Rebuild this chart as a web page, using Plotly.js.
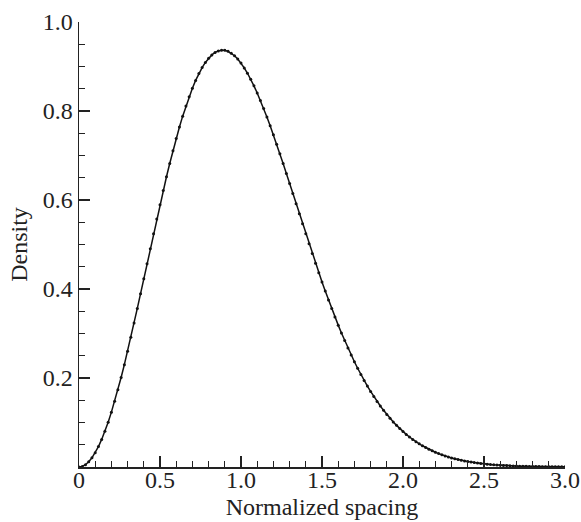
<!DOCTYPE html>
<html>
<head>
<meta charset="utf-8">
<script src="https://cdn.plot.ly/plotly-3.0.1.min.js"></script>
<style>html,body{margin:0;padding:0;background:#fff;}#chart{width:581px;height:522px;}</style>
</head>
<body>
<div id="chart"></div>
<script>
const spacing = [0.00,0.02,0.04,0.06,0.08,0.10,0.12,0.14,0.16,0.18,0.20,0.22,0.24,0.26,0.28,0.30,0.32,0.34,0.36,0.38,0.40,0.42,0.44,0.46,0.48,0.50,0.52,0.54,0.56,0.58,0.60,0.62,0.64,0.66,0.68,0.70,0.72,0.74,0.76,0.78,0.80,0.82,0.84,0.86,0.88,0.90,0.92,0.94,0.96,0.98,1.00,1.02,1.04,1.06,1.08,1.10,1.12,1.14,1.16,1.18,1.20,1.22,1.24,1.26,1.28,1.30,1.32,1.34,1.36,1.38,1.40,1.42,1.44,1.46,1.48,1.50,1.52,1.54,1.56,1.58,1.60,1.62,1.64,1.66,1.68,1.70,1.72,1.74,1.76,1.78,1.80,1.82,1.84,1.86,1.88,1.90,1.92,1.94,1.96,1.98,2.00,2.02,2.04,2.06,2.08,2.10,2.12,2.14,2.16,2.18,2.20,2.22,2.24,2.26,2.28,2.30,2.32,2.34,2.36,2.38,2.40,2.42,2.44,2.46,2.48,2.50,2.52,2.54,2.56,2.58,2.60,2.62,2.64,2.66,2.68,2.70,2.72,2.74,2.76,2.78,2.80,2.82,2.84,2.86,2.88,2.90,2.92,2.94,2.96,2.98,3.00];
const density = [0,0.0013,0.0052,0.0116,0.0206,0.0320,0.0458,0.0620,0.0803,0.1008,0.1233,0.1475,0.1735,0.2011,0.2300,0.2602,0.2914,0.3235,0.3563,0.3896,0.4232,0.4569,0.4906,0.5240,0.5571,0.5896,0.6213,0.6522,0.6821,0.7107,0.7381,0.7640,0.7884,0.8111,0.8321,0.8513,0.8687,0.8841,0.8976,0.9091,0.9186,0.9261,0.9316,0.9351,0.9367,0.9363,0.9341,0.9300,0.9242,0.9167,0.9076,0.8969,0.8848,0.8713,0.8565,0.8405,0.8235,0.8054,0.7865,0.7668,0.7464,0.7253,0.7038,0.6819,0.6596,0.6371,0.6145,0.5918,0.5691,0.5465,0.5240,0.5017,0.4797,0.4580,0.4367,0.4158,0.3954,0.3754,0.3560,0.3371,0.3188,0.3011,0.2840,0.2675,0.2517,0.2364,0.2219,0.2079,0.1946,0.1819,0.1698,0.1583,0.1474,0.1371,0.1273,0.1181,0.1094,0.1012,0.0936,0.0864,0.0796,0.0733,0.0674,0.0619,0.0568,0.0521,0.0477,0.0436,0.0398,0.0363,0.0331,0.0301,0.0273,0.0248,0.0225,0.0204,0.0184,0.0167,0.0150,0.0135,0.0122,0.0110,0.0099,0.0088,0.0079,0.0071,0.0063,0.0057,0.0051,0.0045,0.0040,0.0036,0.0032,0.0028,0.0025,0.0022,0.0019,0.0017,0.0015,0.0013,0.0012,0.0010,0.0009,0.0008,0.0007,0.0006,0.0005,0.0005,0.0004,0.0004,0.0003];
const xTickVals = [0,0.5,1.0,1.5,2.0,2.5,3.0];
const xTickText = ["0","0.5","1.0","1.5","2.0","2.5","3.0"];
const yTickVals = [0.2,0.4,0.6,0.8,1.0];
const yTickText = ["0.2","0.4","0.6","0.8","1.0"];

const font = "Liberation Serif, Times New Roman, serif";
const trace = {
  x: spacing, y: density, type: 'scatter', mode: 'lines+markers',
  line: {color: '#111', width: 1.5},
  marker: {color: '#111', size: 3},
  hoverinfo: 'skip', showlegend: false
};
const layout = {
  width: 581, height: 522,
  margin: {l: 79, r: 16, t: 22, b: 55},
  paper_bgcolor: '#fff', plot_bgcolor: '#fff',
  font: {family: font, size: 24, color: '#222'},
  xaxis: {
    range: [0, 3.0], showgrid: false, zeroline: false,
    showline: true, linecolor: '#222', linewidth: 1.5,
    ticks: 'inside', ticklen: 11, tickwidth: 1.3, tickcolor: '#222',
    tickvals: xTickVals, ticktext: xTickText,
    ticklabelstandoff: -9,
    tickfont: {family: font, size: 24, color: '#222'},
    minor: {dtick: 0.1, tick0: 0, ticks: 'inside', ticklen: 6, tickwidth: 1.3, tickcolor: '#222', showgrid: false},
    title: {text: 'Normalized spacing', font: {family: font, size: 24, color: '#222'}, standoff: 6}
  },
  yaxis: {
    range: [0, 1.0], showgrid: false, zeroline: false,
    showline: true, linecolor: '#222', linewidth: 1.5,
    ticks: 'inside', ticklen: 11, tickwidth: 1.3, tickcolor: '#222',
    tickvals: yTickVals, ticktext: yTickText,
    tickfont: {family: font, size: 24, color: '#222'},
    minor: {dtick: 0.05, tick0: 0, ticks: 'inside', ticklen: 6, tickwidth: 1.3, tickcolor: '#222', showgrid: false},
    title: {text: 'Density', font: {family: font, size: 24, color: '#222'}, standoff: 8}
  }
};
Plotly.newPlot('chart', [trace], layout, {staticPlot: true, displayModeBar: false});
</script>
</body>
</html>
